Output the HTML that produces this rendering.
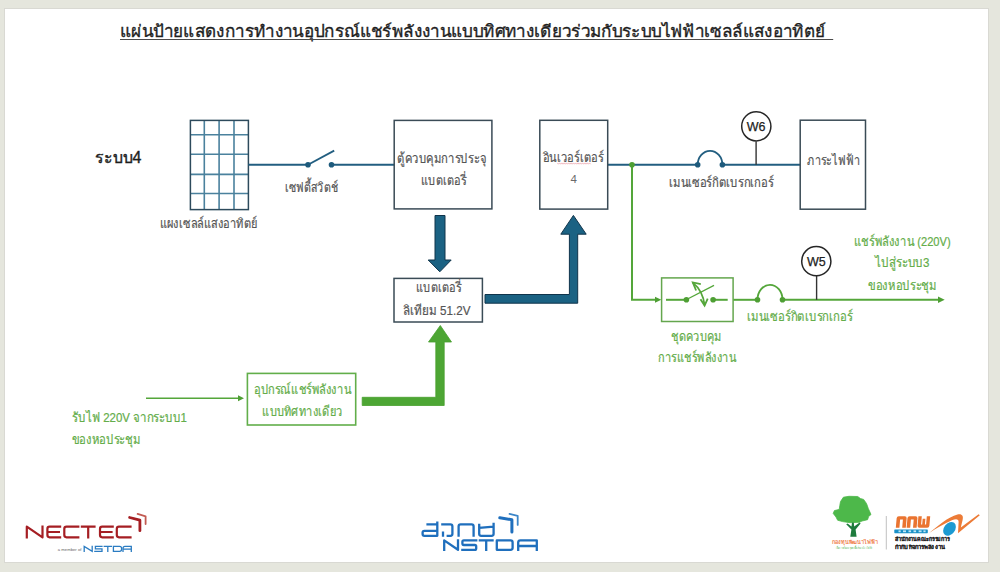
<!DOCTYPE html>
<html><head><meta charset="utf-8">
<style>
html,body{margin:0;padding:0;}
body{width:1000px;height:572px;overflow:hidden;background:#e5e6dd;position:relative;font-family:"Liberation Sans",sans-serif;}
#slide{position:absolute;left:5px;top:9px;width:983px;height:553px;background:#fff;box-shadow:0 0 0 1px #d9d9d3;}
svg{position:absolute;left:0;top:0;}
.t{position:absolute;white-space:nowrap;line-height:1;color:#595959;font-size:13px;}
.g{color:#5ba640;}
.c{text-align:center;}
</style></head><body>
<div id="slide"></div>
<svg width="1000" height="572" viewBox="0 0 1000 572">
  <!-- solar panel -->
  <g stroke="#4a819d" stroke-width="1.6" fill="none">
    <line x1="204.3" y1="120.5" x2="204.3" y2="209.5"/>
    <line x1="219.1" y1="120.5" x2="219.1" y2="209.5"/>
    <line x1="234" y1="120.5" x2="234" y2="209.5"/>
    <line x1="190.5" y1="134.8" x2="248.5" y2="134.8"/>
    <line x1="190.5" y1="154.3" x2="248.5" y2="154.3"/>
    <line x1="190.5" y1="174.4" x2="248.5" y2="174.4"/>
    <line x1="190.5" y1="193.5" x2="248.5" y2="193.5"/>
  </g>
  <rect x="190.4" y="120.4" width="58" height="89.2" fill="none" stroke="#2d4a5c" stroke-width="1.5"/>
  <!-- blue wiring -->
  <g stroke="#225e80" stroke-width="2" fill="none">
    <line x1="248.5" y1="164.8" x2="308" y2="164.8"/>
    <line x1="331.5" y1="164.8" x2="394.2" y2="164.8"/>
    <line x1="308" y1="164.8" x2="334.2" y2="150.6" stroke-width="1.8"/>
    <line x1="607.7" y1="164.8" x2="697.7" y2="164.8"/>
    <line x1="722.4" y1="164.8" x2="800.2" y2="164.8"/>
    <path d="M697.7,164.8 A12.35,14 0 0 1 722.4,164.8" stroke-width="1.8"/>
  </g>
  <g fill="#1d5a7c">
    <circle cx="308" cy="164.8" r="2.8"/>
    <circle cx="331.5" cy="164.8" r="2.8"/>
    <circle cx="697.7" cy="164.8" r="2.8"/>
    <circle cx="722.4" cy="164.8" r="2.8"/>
  </g>
  <!-- boxes -->
  <g fill="none" stroke="#3a4b56" stroke-width="1.5">
    <rect x="394.2" y="120.4" width="97.7" height="88.5"/>
    <rect x="394" y="278.4" width="88.4" height="43.6"/>
    <rect x="539.8" y="120.3" width="67.9" height="88.8"/>
    <rect x="800.2" y="120.2" width="65.3" height="89"/>
  </g>
  <!-- dark blue arrows -->
  <g fill="#1b6283" stroke="#10344b" stroke-width="1">
    <polygon points="435,215.5 445,215.5 445,260 451.2,260 439.8,271.8 428.2,260 435,260"/>
    <polygon points="485,294.5 569.4,294.5 569.4,234.2 560.8,234.2 573.4,215.4 586.2,234.2 577.7,234.2 577.7,303.2 485,303.2"/>
  </g>
  <!-- W6 meter -->
  <line x1="756.1" y1="141.6" x2="756.1" y2="164.8" stroke="#333" stroke-width="1.4"/>
  <circle cx="756.3" cy="126.3" r="14.6" fill="#fff" stroke="#262626" stroke-width="1.5"/>
  <!-- green wiring -->
  <g stroke="#54a63a" stroke-width="2" fill="none">
    <polyline points="632,164.8 632,299.8 657,299.8"/>
    <line x1="733.1" y1="299.8" x2="757.5" y2="299.8"/>
    <line x1="782.5" y1="299.8" x2="940" y2="299.8"/>
    <path d="M757.5,299.8 A12.5,15 0 0 1 782.5,299.8" stroke-width="1.8"/>
    <line x1="666" y1="299.8" x2="686.4" y2="299.8"/>
    <line x1="713.1" y1="299.8" x2="727.7" y2="299.8"/>
    <line x1="686.6" y1="299.5" x2="714" y2="285.4" stroke-width="1.3"/>
    <path d="M692.8,282.6 Q703,290.9 704.6,305.2" stroke-width="1.8"/>
    <polyline points="700.8,284.1 692.8,282.4 696.1,290.5" stroke-width="1.8" stroke-linejoin="miter"/>
    <polyline points="700.5,299.3 704.6,305.6 707.7,298.7" stroke-width="1.8" stroke-linejoin="miter"/>
    <line x1="146" y1="398.2" x2="239" y2="398.2" stroke-width="1.6"/>
  </g>
  <g fill="#4e9f34">
    <circle cx="632" cy="164.8" r="2.8"/>
    <circle cx="686.4" cy="299.8" r="2.8"/>
    <circle cx="713.1" cy="299.8" r="2.8"/>
    <circle cx="757.5" cy="299.8" r="2.8"/>
    <circle cx="782.5" cy="299.8" r="2.8"/>
    <polygon points="655,296.8 661.3,299.8 655,302.8"/>
    <polygon points="938,296.6 944.7,299.8 938,303"/>
    <polygon points="238,395.2 244,398.2 238,401.2"/>
  </g>
  <!-- green control box -->
  <rect x="661.6" y="277.9" width="71.5" height="43.6" fill="none" stroke="#64a64e" stroke-width="1.5"/>
  <!-- W5 meter -->
  <line x1="816.6" y1="276" x2="816.6" y2="299.8" stroke="#333" stroke-width="1.4"/>
  <circle cx="816.3" cy="261.2" r="14.6" fill="#fff" stroke="#262626" stroke-width="1.5"/>
  <!-- green big arrow -->
  <polygon points="362.2,397.3 435.8,397.3 435.8,342 428.5,342 440.3,325.5 451.5,342 444.2,342 444.2,405.5 362.2,405.5" fill="#4da634" stroke="#47a02d" stroke-width="0.8"/>
  <!-- green device box -->
  <rect x="247.4" y="373.4" width="108.3" height="51.6" fill="none" stroke="#62ae4a" stroke-width="1.6"/>
</svg>

<svg width="1000" height="572" viewBox="0 0 1000 572" font-family="'Liberation Sans', sans-serif">
  <text x="120" y="37.2" font-size="16.5" fill="#1e1e1e" stroke="#1e1e1e" stroke-width="0.35" font-weight="normal" textLength="705.5" lengthAdjust="spacingAndGlyphs">แผ่นป้ายแสดงการทำงานอุปกรณ์แชร์พลังงานแบบทิศทางเดียวร่วมกับระบบไฟฟ้าเซลล์แสงอาทิตย์</text>
  <text x="94.8" y="162.7" font-size="16" fill="#1e1e1e" stroke="#1e1e1e" stroke-width="0.4" font-weight="normal" textLength="46.5" lengthAdjust="spacingAndGlyphs">ระบบ4</text>
  <text x="159.6" y="228" font-size="13.5" fill="#555" stroke="#555" stroke-width="0.22" font-weight="normal" textLength="97.9" lengthAdjust="spacingAndGlyphs">แผงเซลล์แสงอาทิตย์</text>
  <text x="285.1" y="191.5" font-size="13.5" fill="#555" stroke="#555" stroke-width="0.22" font-weight="normal" textLength="52.8" lengthAdjust="spacingAndGlyphs">เซฟตี้สวิตช์</text>
  <text x="397.4" y="163.3" font-size="13.5" fill="#555" stroke="#555" stroke-width="0.22" font-weight="normal" textLength="88.8" lengthAdjust="spacingAndGlyphs">ตู้ควบคุมการประจุ</text>
  <text x="421.1" y="184.6" font-size="13.5" fill="#555" stroke="#555" stroke-width="0.22" font-weight="normal" textLength="45.1" lengthAdjust="spacingAndGlyphs">แบตเตอรี่</text>
  <text x="416" y="292.4" font-size="13.5" fill="#555" stroke="#555" stroke-width="0.22" font-weight="normal" textLength="45.2" lengthAdjust="spacingAndGlyphs">แบตเตอรี่</text>
  <text x="403.2" y="314.8" font-size="13.5" fill="#555" stroke="#555" stroke-width="0.22" font-weight="normal" textLength="67.2" lengthAdjust="spacingAndGlyphs">ลิเทียม 51.2V</text>
  <text x="542.8" y="162.3" font-size="13.5" fill="#555" stroke="#555" stroke-width="0.22" font-weight="normal" textLength="60.8" lengthAdjust="spacingAndGlyphs">อินเวอร์เตอร์</text>
  <text x="668.9" y="186.6" font-size="13.5" fill="#555" stroke="#555" stroke-width="0.22" font-weight="normal" textLength="104.7" lengthAdjust="spacingAndGlyphs">เมนเซอร์กิตเบรกเกอร์</text>
  <text x="807.4" y="165" font-size="13.5" fill="#555" stroke="#555" stroke-width="0.22" font-weight="normal" textLength="52.5" lengthAdjust="spacingAndGlyphs">ภาระไฟฟ้า</text>
  <text x="853.9" y="245.6" font-size="13.5" fill="#64ad4a" stroke="#64ad4a" stroke-width="0.22" font-weight="normal" textLength="96.8" lengthAdjust="spacingAndGlyphs">แชร์พลังงาน (220V)</text>
  <text x="875.1" y="267.1" font-size="13.5" fill="#64ad4a" stroke="#64ad4a" stroke-width="0.22" font-weight="normal" textLength="54.3" lengthAdjust="spacingAndGlyphs">ไปสู่ระบบ3</text>
  <text x="868.2" y="289.7" font-size="13.5" fill="#64ad4a" stroke="#64ad4a" stroke-width="0.22" font-weight="normal" textLength="68.2" lengthAdjust="spacingAndGlyphs">ของหอประชุม</text>
  <text x="747" y="321" font-size="13.5" fill="#64ad4a" stroke="#64ad4a" stroke-width="0.22" font-weight="normal" textLength="105.6" lengthAdjust="spacingAndGlyphs">เมนเซอร์กิตเบรกเกอร์</text>
  <text x="671.4" y="340.5" font-size="13.5" fill="#64ad4a" stroke="#64ad4a" stroke-width="0.22" font-weight="normal" textLength="50.4" lengthAdjust="spacingAndGlyphs">ชุดควบคุม</text>
  <text x="658.3" y="362" font-size="13.5" fill="#64ad4a" stroke="#64ad4a" stroke-width="0.22" font-weight="normal" textLength="77.9" lengthAdjust="spacingAndGlyphs">การแชร์พลังงาน</text>
  <text x="254.2" y="394.3" font-size="13.5" fill="#64ad4a" stroke="#64ad4a" stroke-width="0.22" font-weight="normal" textLength="96.9" lengthAdjust="spacingAndGlyphs">อุปกรณ์แชร์พลังงาน</text>
  <text x="262.3" y="416.1" font-size="13.5" fill="#64ad4a" stroke="#64ad4a" stroke-width="0.22" font-weight="normal" textLength="80.3" lengthAdjust="spacingAndGlyphs">แบบทิศทางเดียว</text>
  <text x="72" y="421.6" font-size="13.5" fill="#64ad4a" stroke="#64ad4a" stroke-width="0.22" font-weight="normal" textLength="115" lengthAdjust="spacingAndGlyphs">รับไฟ 220V จากระบบ1</text>
  <text x="72" y="443.7" font-size="13.5" fill="#64ad4a" stroke="#64ad4a" stroke-width="0.22" font-weight="normal" textLength="68.3" lengthAdjust="spacingAndGlyphs">ของหอประชุม</text>
  <polyline points="557.3,162.9 558.4,164.2 559.6,162.9 560.7,164.2 561.9,162.9 563.0,164.2 564.2,162.9 565.3,164.2 566.5,162.9 567.6,164.2 568.8,162.9 569.9,164.2 571.1,162.9 572.2,164.2 573.4,162.9 574.5,164.2 575.7,162.9 576.8,164.2 578.0,162.9 579.1,164.2 580.3,162.9 581.4,164.2 582.6,162.9 583.7,164.2 584.9,162.9 586.0,164.2 587.2,162.9 588.3,164.2 589.5,162.9 590.6,164.2" fill="none" stroke="#e27a86" stroke-width="0.7" opacity="0.75"/>
  <line x1="120" y1="39.5" x2="833.2" y2="39.5" stroke="#4a4a4a" stroke-width="1.1"/>
  <text x="573.7" y="183.3" font-size="11.5" fill="#6a6a6a" text-anchor="middle">4</text>
  <text x="756.2" y="130.9" font-size="12.5" fill="#222" stroke="#222" stroke-width="0.25" text-anchor="middle">W6</text>
  <text x="816.3" y="265.8" font-size="12.5" fill="#222" stroke="#222" stroke-width="0.25" text-anchor="middle">W5</text>
</svg>
<svg width="1000" height="572" viewBox="0 0 1000 572">
  <!-- NECTEC -->
  <g fill="none" stroke="#a51e23" stroke-width="2.2" stroke-linejoin="round">
    <path d="M26.8,538.4 V526.7 L42.5,537.3 V525.6"/>
    <path d="M61.2,526.7 H49.6 Q47.4,526.7 47.4,528.9 V535.1 Q47.4,537.3 49.6,537.3 H61.2 M47.4,532 H60"/>
    <path d="M79.4,526.7 H66.5 Q64.3,526.7 64.3,528.9 V535.1 Q64.3,537.3 66.5,537.3 H79.4"/>
    <path d="M80.8,526.7 H95.6 M88.2,526.7 V538.4"/>
    <path d="M113.8,526.7 H102.2 Q100,526.7 100,528.9 V535.1 Q100,537.3 102.2,537.3 H113.8 M100,532 H112.6"/>
    <path d="M131.6,526.7 H119 Q116.8,526.7 116.8,528.9 V535.1 Q116.8,537.3 119,537.3 H131.6"/>
    <path d="M129.6,517.5 L139.9,520.2 V530.7" stroke-width="2.8" stroke-linecap="round"/>
    <path d="M137.6,513.9 L145.6,516.3 V524.1" stroke="#c25a52" stroke-width="1.8" stroke-linecap="round"/>
  </g>
  <text x="57.8" y="551.2" font-size="4" fill="#666" textLength="23.6" lengthAdjust="spacingAndGlyphs">a member of</text>
  <g fill="none" stroke="#2b7cc2" stroke-width="1.3">
    <path d="M84.2,551.9 V546.4 L92.2,551.4 V545.8"/>
    <path d="M102.6,546.4 H95.4 V548.8 H102 V551.3 H94.2"/>
    <path d="M103.6,546.4 H112 M107.8,546.4 V551.9"/>
    <path d="M113.4,546.4 V551.3 H119.6 Q121.6,551.3 121.6,549.3 V548.4 Q121.6,546.4 119.6,546.4 Z"/>
    <path d="M123,551.9 V548.4 Q123,546.4 125,546.4 H131.3 V551.9 M123,549.2 H131.3"/>
  </g>
  <!-- NSTDA -->
  <g fill="none" stroke="#1f6fbd" stroke-width="2.3" stroke-linejoin="round">
    <path d="M444.2,550.9 V540.4 L458,549.8 V539.2"/>
    <path d="M477.4,540.4 H463.8 Q462.4,540.4 462.4,541.8 V543.6 Q462.4,545 463.8,545 H474.8 Q476.2,545 476.2,546.4 V548.4 Q476.2,549.8 474.8,549.8 H461.2"/>
    <path d="M478.7,540.4 H493.7 M486.2,540.4 V550.9"/>
    <path d="M496.8,540.4 V549.8 H510.6 Q512.6,549.8 512.6,547.8 V542.4 Q512.6,540.4 510.6,540.4 Z"/>
    <path d="M518.2,550.9 V542.6 Q518.2,540.4 520.4,540.4 H536.8 V550.9 M518.2,546 H536.8"/>
    <!-- Thai letters -->
    <path d="M437.3,524.4 V521.6 M426.4,524.4 H437.3 V535.8 H424.4 Q422.6,535.8 422.6,534 V532.6 Q422.6,530.8 424.4,530.8 H437.3"/>
    <path d="M441.2,524.4 H450.4 Q452.4,524.4 452.4,526.4 V533.8 Q452.4,535.8 450.4,535.8 H446.6 M443,531.5 V536.8"/>
    <path d="M458.6,536.8 V526.4 Q458.6,524.4 460.6,524.4 H471.6 Q473.6,524.4 473.6,526.4 V536.8"/>
    <path d="M479.2,523.8 V533.8 Q479.2,535.8 481.2,535.8 H491.6 Q493.6,535.8 493.6,533.8 V522.8 M479.2,527.8 L493.6,526.6"/>
    <path d="M499.8,517.8 L511.9,519.7 V532" stroke-width="3" stroke-linecap="round"/>
    <path d="M509.5,513.9 L517.7,515.8 V524.9" stroke="#3b86c9" stroke-width="1.8" stroke-linecap="round"/>
  </g>
  <!-- tree logo -->
  <path d="M843.4,497.2 L849,496.3 L857.7,496.5 L860.5,498.6 L863.6,499.4 L866.5,503.5 L868.3,508.5 L871,514.5 L868.6,516.5 L867.6,519.7 L862,521 L859.4,522.3 L850,522.7 L842.6,521.6 L837.6,520.2 L836,517 L833.2,513.4 L834.4,510.6 L839.2,509.4 L839.8,505.5 L840.5,501.6 Z" fill="#4db84a" stroke="#4db84a" stroke-width="0.8" stroke-linejoin="round"/>
  <path d="M850.3,536.8 L851.4,529.5 L846.2,524.2 L847.6,523.6 L851.5,526.6 L852,522.4 L853.8,522.4 L854.2,526.4 L859.6,522.6 L860.6,523.6 L855.6,529.5 L856.6,536.8 Z" fill="#1e7b3d"/>
  <text x="831.8" y="543.6" font-size="5.5" fill="#ef7f4f" font-weight="bold" textLength="46.2" lengthAdjust="spacingAndGlyphs">กองทุนพัฒนาไฟฟ้า</text>
  <text x="836.1" y="548.6" font-size="3.2" fill="#5cb85c" textLength="36.3" lengthAdjust="spacingAndGlyphs">เพื่อการพัฒนาชุมชนพื้นที่รอบโรงไฟฟ้า</text>
  <line x1="886.3" y1="516" x2="886.3" y2="549.5" stroke="#b0b0b0" stroke-width="0.8"/>
  <!-- ERC logo -->
  <g fill="#ea7430" transform="translate(0,527.8) skewX(-5) translate(0,-527.8)">
    <path fill-rule="evenodd" d="M895.8,527.8 V518.2 Q895.8,516.2 897.8,516.2 H903.8 Q905.8,516.2 905.8,518.2 V527.8 Z M899.4,527.8 H902.2 V519.6 H899.4 Z"/>
    <path fill-rule="evenodd" d="M906.6,527.8 V518.2 Q906.6,516.2 908.6,516.2 H914.6 Q916.6,516.2 916.6,518.2 V527.8 Z M910.2,527.8 H913 V519.6 H910.2 Z"/>
    <path d="M917.4,516.2 H920.8 V524.6 H921.9 V518.8 H924.6 V524.6 H925.8 V516.2 H929.2 V525.8 Q929.2,527.8 927.2,527.8 H919.4 Q917.4,527.8 917.4,525.8 Z"/>
  </g>
  <rect x="894.3" y="529.4" width="33.5" height="3.8" rx="0.6" fill="#1b90c6"/>
  <g fill="#bfe6f5"><rect x="898.5" y="530.4" width="2.2" height="1.8"/><rect x="903" y="530.4" width="3" height="1.8"/><rect x="908.5" y="530.4" width="2.6" height="1.8"/><rect x="913.5" y="530.4" width="2.6" height="1.8"/><rect x="918.6" y="530.4" width="3" height="1.8"/><rect x="923.4" y="530.4" width="2.2" height="1.8"/></g>
  <path d="M929.2,533.1 C938,526 948,517 957.5,514.6 C962,513.6 963.6,516 962.6,520 L960.8,527.5 L978.6,514.3 L979.8,515.2 L958,533.2 L958.6,522 C958.8,518.8 956,518.6 952.5,520 C944,523.5 936,528.5 929.2,533.1 Z" fill="#ec7b37"/>
  <ellipse cx="949.5" cy="528.8" rx="7.6" ry="5.5" transform="rotate(-52 949.5 528.8)" fill="#1b9ad2"/>
  <text x="895" y="541.2" font-size="5.6" fill="#222" stroke="#222" stroke-width="0.1" font-weight="bold" textLength="55" lengthAdjust="spacingAndGlyphs">สำนักงานคณะกรรมการ</text>
  <text x="895" y="549" font-size="5.6" fill="#222" stroke="#222" stroke-width="0.1" font-weight="bold" textLength="50" lengthAdjust="spacingAndGlyphs">กำกับกิจการพลังงาน</text>
</svg>
</body></html>
